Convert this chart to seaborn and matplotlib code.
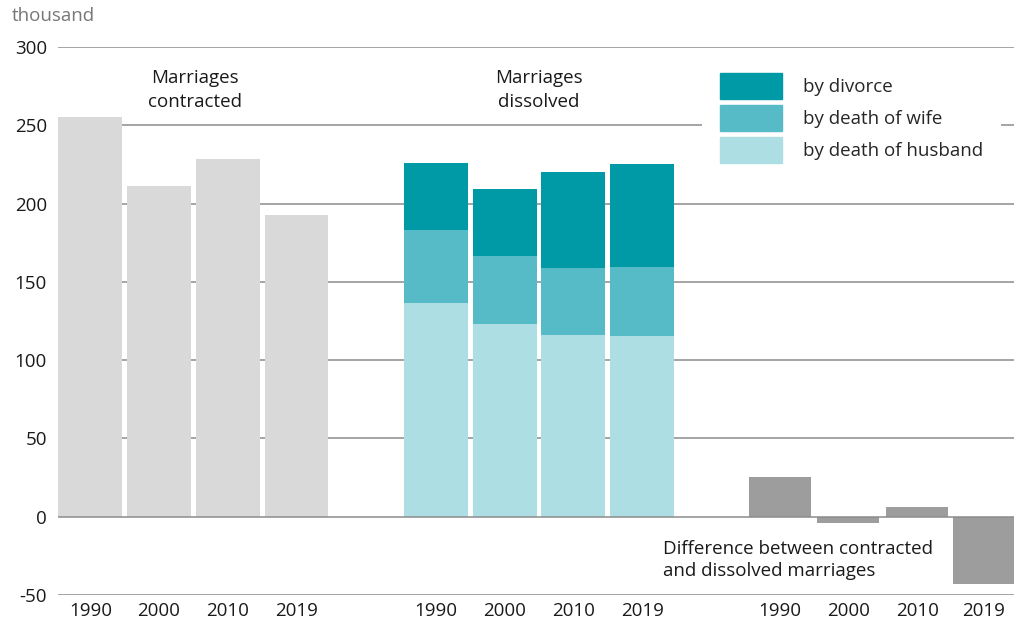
import numpy as np
import pandas as pd
import matplotlib
matplotlib.use("Agg")
import matplotlib.pyplot as plt
import seaborn as sns
from matplotlib.patches import Patch

# data (thousand)
years = ["1990", "2000", "2010", "2019"]
contracted = [255.4, 211.2, 228.5, 192.6]
by_divorce = [42.7, 42.7, 61.3, 65.8]
by_death_wife = [46.6, 43.4, 42.8, 44.0]
by_death_husband = [136.6, 123.2, 116.1, 115.5]
difference = [25.6, -3.8, 6.2, -42.9]

# slot positions of the three groups
pos_contracted = [0, 1, 2, 3]
pos_dissolved = [5.03, 6.03, 7.03, 8.03]
pos_difference = [10.03, 11.03, 12.03, 13.0]

c_contr = "#d9d9d9"
c_divorce = "#009aa6"
c_wife = "#56bbc7"
c_husband = "#acdee3"
c_diff = "#9d9d9d"

sns.set_theme(style="white")
plt.rcParams["font.family"] = ["Open Sans", "DejaVu Sans"]
plt.rcParams["axes.unicode_minus"] = False
fs = 13.5

husband = np.array(by_death_husband)
wife_top = husband + np.array(by_death_wife)
total = wife_top + np.array(by_divorce)

fig = plt.figure(figsize=(10.14, 6.23), dpi=100)
ax = fig.add_axes([58 / 1014, 1 - 595 / 623, 1 - 58 / 1014, (595 - 47) / 623])

w = 0.93
sns.barplot(x=pos_contracted, y=contracted, native_scale=True, color=c_contr,
            width=w, saturation=1, ax=ax, zorder=2)
# stacked: draw cumulative totals from the top down
sns.barplot(x=pos_dissolved, y=total, native_scale=True, color=c_divorce,
            width=w, saturation=1, ax=ax, zorder=2)
sns.barplot(x=pos_dissolved, y=wife_top, native_scale=True, color=c_wife,
            width=w, saturation=1, ax=ax, zorder=3)
sns.barplot(x=pos_dissolved, y=husband, native_scale=True, color=c_husband,
            width=w, saturation=1, ax=ax, zorder=4)
sns.barplot(x=pos_difference, y=difference, native_scale=True, color=c_diff,
            width=w, saturation=1, ax=ax, zorder=2)
for p in ax.patches:
    p.set_edgecolor("none")

ax.set_xlim(-0.47, 13.44)
ax.set_ylim(-50, 300)
ax.set_yticks(range(-50, 301, 50))
ax.set_xticks(pos_contracted + pos_dissolved + pos_difference)
ax.set_xticklabels(years * 3)
ax.tick_params(axis="both", length=0, labelsize=fs, colors="#1a1a1a")
ax.tick_params(axis="y", pad=8)
ax.tick_params(axis="x", pad=5)
ax.set_xlabel("")
ax.set_ylabel("")
for s in ax.spines.values():
    s.set_visible(False)
for v in range(-50, 301, 50):
    ax.axhline(v, color="#8c8c8c", lw=1.1, zorder=1 if v != 0 else 6)

fig.text(12 / 1014, 1 - 16 / 623, "thousand", fontsize=fs, color="#777777",
         va="center", ha="left")

ax.text(1.52, 272.5, "Marriages\ncontracted", ha="center", va="center",
        fontsize=fs, color="#1a1a1a", linespacing=1.45)
ax.text(6.53, 272.5, "Marriages\ndissolved", ha="center", va="center",
        fontsize=fs, color="#1a1a1a", linespacing=1.45)
ax.text(8.33, -27.5, "Difference between contracted\nand dissolved marriages",
        ha="left", va="center", fontsize=fs, color="#1a1a1a", linespacing=1.3)

handles = [Patch(color=c_divorce), Patch(color=c_wife), Patch(color=c_husband)]
labels = ["by divorce", "by death of wife", "by death of husband"]
leg = fig.legend(handles, labels, loc="upper left",
                 bbox_to_anchor=(702 / 1014, 1 - 55 / 623),
                 bbox_transform=fig.transFigure, fontsize=fs,
                 handlelength=3.3, handleheight=1.75, labelspacing=0.32,
                 handletextpad=1.15, borderpad=0.95, borderaxespad=0,
                 frameon=True, fancybox=False)
leg.get_frame().set_facecolor("white")
leg.get_frame().set_edgecolor("none")
leg.get_frame().set_alpha(1)

fig.savefig("out.png", dpi=100)
